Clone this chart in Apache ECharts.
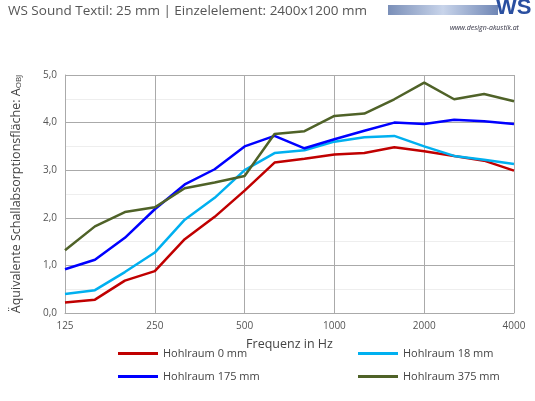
<!DOCTYPE html><html><head><meta charset="utf-8"><script src="https://cdn.jsdelivr.net/npm/echarts@6/dist/echarts.min.js"></script></head><body style="margin:0"><div id="c" style="width:535px;height:401px"></div><script>
const categories=['125','160','200','250','315','400','500','630','800','1000','1250','1600','2000','2500','3150','4000'];
const red=[0.22,0.28,0.68,0.88,1.55,2.02,2.57,3.16,3.24,3.33,3.36,3.48,3.40,3.30,3.20,2.99];
const cyan=[0.40,0.48,0.86,1.27,1.96,2.42,3.00,3.36,3.42,3.60,3.69,3.72,3.50,3.30,3.22,3.13];
const blue=[0.92,1.12,1.58,2.18,2.70,3.02,3.50,3.72,3.46,3.65,3.83,4.00,3.97,4.06,4.03,3.97];
const green=[1.32,1.82,2.12,2.22,2.62,2.74,2.88,3.76,3.82,4.14,4.19,4.49,4.84,4.49,4.60,4.45];
const names=['Hohlraum 0 mm','Hohlraum 18 mm','Hohlraum 175 mm','Hohlraum 375 mm'];
const F='Open Sans';
const ch=echarts.init(document.getElementById('c'));
const mk=(n,d,c)=>({name:n,type:'line',data:d,symbol:'none',lineStyle:{width:2.5,color:c},itemStyle:{color:c}});
ch.setOption({
animation:false,
textStyle:{fontFamily:F},
graphic:[
{type:'text',left:8,top:4,style:{text:'WS Sound Textil: 25 mm | Einzelelement: 2400x1200 mm',fontSize:13.5,fill:'#555',fontFamily:F}},
{type:'rect',shape:{x:388,y:5,width:110,height:10},style:{fill:new echarts.graphic.LinearGradient(0,0,1,0,[{offset:0,color:'#7a8fb8'},{offset:0.5,color:'#c8d4ea'},{offset:1,color:'#6f86b5'}])}},
{type:'text',left:496,top:-3,style:{text:'WS',fontSize:22,fontWeight:'bold',fill:'#2a4fa0',fontFamily:'Liberation Sans'}},
{type:'text',left:450,top:24,style:{text:'www.design-akustik.at',fontSize:7,fill:'#334',fontStyle:'italic',fontFamily:F}}
],
legend:[
{data:[names[0],names[2]],orient:'vertical',left:113,top:343,itemGap:12,itemWidth:40,itemHeight:3,icon:'rect',textStyle:{fontSize:11,color:'#444',fontFamily:F}},
{data:[names[1],names[3]],orient:'vertical',left:353,top:343,itemGap:12,itemWidth:40,itemHeight:3,icon:'rect',textStyle:{fontSize:11,color:'#444',fontFamily:F}}
],
grid:{left:65,right:21,top:75,bottom:88},
xAxis:{type:'category',data:categories,boundaryGap:false,name:'Frequenz in Hz',nameLocation:'middle',nameGap:25,nameTextStyle:{fontSize:12.5,color:'#444'},
axisLine:{lineStyle:{color:'#aaa'}},axisTick:{show:false},axisLabel:{interval:2,color:'#555',fontSize:10},splitLine:{show:true,interval:2,lineStyle:{color:'#aaa'}}},
yAxis:{type:'value',min:0,max:5,interval:0.5,name:'{a|Äquivalente Schallabsorptionsfläche: A}{b|OBJ}',nameLocation:'middle',nameGap:42,
nameTextStyle:{rich:{a:{fontSize:12.5,color:'#444',fontFamily:F,verticalAlign:'bottom'},b:{fontSize:8,color:'#444',verticalAlign:'bottom',fontFamily:F}}},
axisLine:{show:true,lineStyle:{color:'#aaa'}},axisTick:{show:false},
axisLabel:{color:'#555',fontSize:10,formatter:v=>Math.abs(v-Math.round(v))<1e-6?v.toFixed(1).replace('.',','):''},
splitLine:{lineStyle:{color:['#aaa','#eee']}}},
series:[mk(names[0],red,'#c00000'),mk(names[1],cyan,'#00b0f0'),mk(names[2],blue,'#0000ff'),mk(names[3],green,'#4f6228')]
});
</script></body></html>
